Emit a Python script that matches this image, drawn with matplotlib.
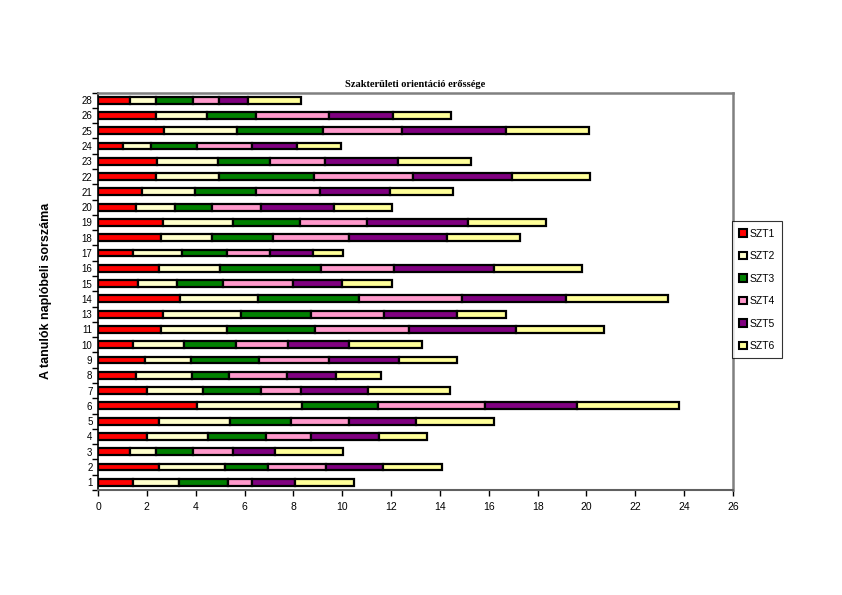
import matplotlib
matplotlib.use("Agg")
import matplotlib.pyplot as plt
import numpy as np
from matplotlib.patches import Patch
from matplotlib.ticker import FixedLocator

# tanulók sorszáma (y categories, bottom to top)
students = ["1", "2", "3", "4", "5", "6", "7", "8", "9", "10", "11", "13", "14",
            "15", "16", "17", "18", "19", "20", "21", "22", "23", "24", "25", "26", "28"]

szt1 = [1.42, 2.48, 1.30, 1.99, 2.48, 4.04, 1.99, 1.57, 1.91, 1.42, 2.57, 2.65, 3.36,
        1.64, 2.50, 1.42, 2.58, 2.65, 1.57, 1.82, 2.36, 2.40, 1.04, 2.69, 2.36, 1.30]
szt2 = [1.90, 2.72, 1.08, 2.50, 2.93, 4.30, 2.30, 2.28, 1.88, 2.10, 2.70, 3.21, 3.19,
        1.58, 2.50, 2.02, 2.09, 2.88, 1.57, 2.15, 2.59, 2.50, 1.12, 2.99, 2.09, 1.06]
szt3 = [2.02, 1.77, 1.51, 2.39, 2.48, 3.11, 2.37, 1.50, 2.79, 2.13, 3.62, 2.85, 4.12,
        1.90, 4.13, 1.83, 2.51, 2.74, 1.53, 2.50, 3.90, 2.14, 1.88, 3.52, 2.02, 1.52]
szt4 = [0.97, 2.37, 1.64, 1.83, 2.37, 4.38, 1.64, 2.38, 2.88, 2.13, 3.86, 3.00, 4.24,
        2.88, 2.99, 1.77, 3.08, 2.73, 1.99, 2.61, 4.06, 2.24, 2.27, 3.25, 2.98, 1.09]
szt5 = [1.77, 2.33, 1.72, 2.78, 2.76, 3.77, 2.76, 2.02, 2.87, 2.48, 4.37, 2.99, 4.24,
        1.99, 4.10, 1.75, 4.04, 4.15, 3.00, 2.88, 4.03, 3.01, 1.83, 4.26, 2.62, 1.16]
szt6 = [2.40, 2.42, 2.80, 2.00, 3.21, 4.20, 3.35, 1.83, 2.36, 3.02, 3.61, 2.01, 4.19,
        2.04, 3.60, 1.23, 2.98, 3.20, 2.39, 2.59, 3.21, 3.00, 1.81, 3.41, 2.40, 2.17]

series = [szt1, szt2, szt3, szt4, szt5, szt6]
names = ["SZT1", "SZT2", "SZT3", "SZT4", "SZT5", "SZT6"]
colors = ["#FF0000", "#FFFFCC", "#008000", "#FF99CC", "#800080", "#FFFF99"]

fig = plt.figure(figsize=(8.42, 5.95), dpi=100)
ax = fig.add_axes([0.1164, 0.1765, 0.7541, 0.668])

y = np.arange(len(students))
left = np.zeros(len(students))
for vals, name, col in zip(series, names, colors):
    ax.barh(y, vals, left=left, height=0.45, color=col, edgecolor="black",
            linewidth=1.6, label=name)
    left += np.array(vals)

ax.set_xlim(0, 26)
ax.set_ylim(-0.5, len(students) - 0.5)
ax.set_xticks(np.arange(0, 27, 2))
ax.set_yticks(y)
ax.set_yticklabels(students)
ax.yaxis.set_minor_locator(FixedLocator(np.arange(-0.5, len(students), 1)))
ax.tick_params(axis="y", which="major", length=0, labelsize=7, pad=4,
               labelfontfamily="Liberation Sans")
ax.tick_params(axis="y", which="minor", length=4, width=1, direction="out")
ax.tick_params(axis="x", which="major", length=4, width=1, direction="out",
               labelsize=7.5, pad=5, labelfontfamily="Liberation Sans")

for side in ["top", "right"]:
    ax.spines[side].set_color("#808080")
    ax.spines[side].set_linewidth(1.8)
ax.spines["bottom"].set_color("#606060")
ax.spines["bottom"].set_linewidth(1.5)
ax.spines["left"].set_color("black")
ax.spines["left"].set_linewidth(1.2)

ax.set_title("Szakterületi orientáció erőssége", fontsize=7.5, fontweight="bold",
             family="Liberation Serif", pad=4)
ax.set_ylabel("A tanulók naplóbeli sorszáma", fontsize=9, fontweight="bold",
              family="Liberation Sans", labelpad=21)

handles = [Patch(facecolor=c, edgecolor="black", linewidth=1.5) for c in colors]
leg = fig.legend(handles, names, loc="upper left", bbox_to_anchor=(0.8695, 0.628),
                 frameon=True, fancybox=False, edgecolor="black",
                 prop={"family": "Liberation Sans", "size": 7.5},
                 handlelength=0.7, handleheight=0.7, handletextpad=0.3,
                 labelspacing=1.2, borderpad=0.7, borderaxespad=0)
leg.get_frame().set_linewidth(0.8)

fig.savefig("out.png", dpi=100)
